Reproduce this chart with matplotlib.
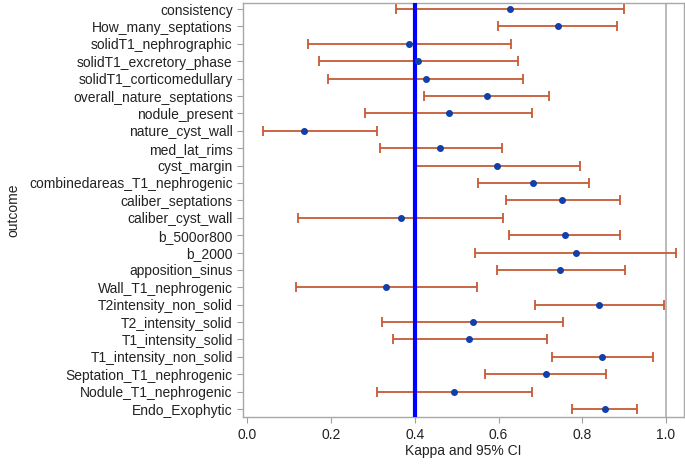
import matplotlib.pyplot as plt

plt.rcParams['font.family'] = ['Liberation Sans', 'DejaVu Sans']

outcomes = ["consistency", "How_many_septations", "solidT1_nephrographic",
            "solidT1_excretory_phase", "solidT1_corticomedullary",
            "overall_nature_septations", "nodule_present", "nature_cyst_wall",
            "med_lat_rims", "cyst_margin", "combinedareas_T1_nephrogenic",
            "caliber_septations", "caliber_cyst_wall", "b_500or800", "b_2000",
            "apposition_sinus", "Wall_T1_nephrogenic", "T2intensity_non_solid",
            "T2_intensity_solid", "T1_intensity_solid", "T1_intensity_non_solid",
            "Septation_T1_nephrogenic", "Nodule_T1_nephrogenic", "Endo_Exophytic"]
kappa = [0.627, 0.742, 0.387, 0.408, 0.426, 0.573, 0.482, 0.136, 0.461, 0.596,
         0.683, 0.752, 0.366, 0.758, 0.784, 0.747, 0.330, 0.840, 0.538, 0.530,
         0.847, 0.713, 0.493, 0.855]
lower = [0.355, 0.599, 0.146, 0.170, 0.193, 0.422, 0.282, 0.038, 0.317, 0.402,
         0.551, 0.618, 0.122, 0.626, 0.543, 0.597, 0.115, 0.687, 0.321, 0.348,
         0.727, 0.567, 0.309, 0.776]
upper = [0.899, 0.882, 0.629, 0.647, 0.659, 0.721, 0.681, 0.309, 0.608, 0.795,
         0.817, 0.890, 0.610, 0.890, 1.024, 0.901, 0.549, 0.994, 0.755, 0.716,
         0.968, 0.856, 0.679, 0.931]

fig = plt.figure(figsize=(6.85, 4.67), dpi=100)
ax = fig.add_axes([0.355, 0.107, 0.643, 0.887])

ypos = list(range(len(outcomes)))
err_lo = [k - l for k, l in zip(kappa, lower)]
err_hi = [u - k for k, u in zip(kappa, upper)]

ax.axvline(1.0, color='#b4b4b4', lw=1.3, zorder=1)
ax.errorbar(kappa, ypos, xerr=[err_lo, err_hi], fmt='none', ecolor='#c65a35',
            elinewidth=1.3, capsize=3.5, capthick=1.3, zorder=2)
ax.axvline(0.4, color='#0000ff', lw=3, zorder=3)
ax.plot(kappa, ypos, 'o', color='#1040a8', ms=4, zorder=4)

ax.set_xlim(-0.01, 1.042)
ax.set_ylim(len(outcomes) - 1 + 0.46, -0.36)
ax.set_yticks(ypos)
ax.set_yticklabels(outcomes)
ax.set_xticks([0.0, 0.2, 0.4, 0.6, 0.8, 1.0])
ax.set_xticklabels(["0.0", "0.2", "0.4", "0.6", "0.8", "1.0"])

for s in ax.spines.values():
    s.set_color('#a8a8a8')
    s.set_linewidth(1)
ax.tick_params(axis='both', colors='#a0a0a0', labelcolor='#222222',
               labelsize=10, length=4)
ax.tick_params(axis='x', pad=4)
ax.set_xlabel("Kappa and 95% CI", fontsize=10, color='#222222', labelpad=1)
ax.set_ylabel("outcome", fontsize=10, color='#222222', labelpad=6)

fig.savefig("out.png", dpi=100)
